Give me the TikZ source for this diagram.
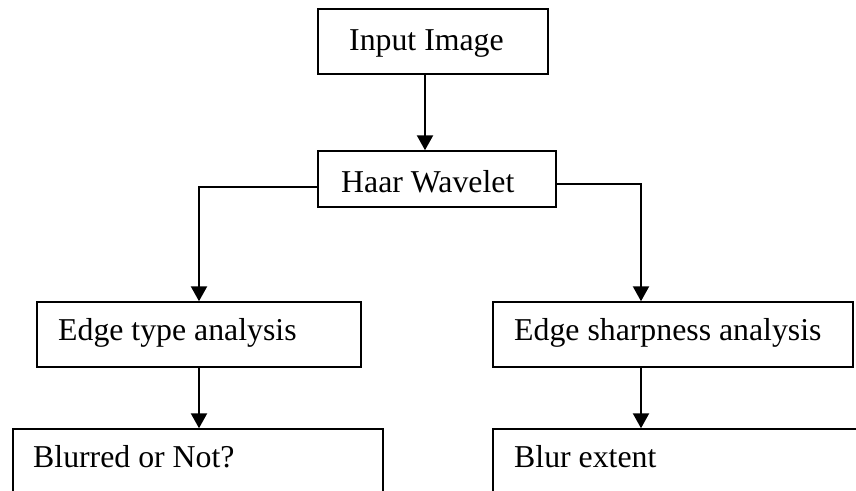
\documentclass[tikz,border=0pt]{standalone}
\usepackage{fontspec}
\setmainfont{Liberation Serif}
\usetikzlibrary{arrows.meta,calc}
\begin{document}
\begin{tikzpicture}[x=1pt,y=-1pt,
  box/.style={draw=black,line width=1.5pt,rectangle,inner sep=0pt,fill=none},
  lbl/.style={anchor=base west,inner sep=0pt,font=\fontsize{31.8}{36}\selectfont},
  conn/.style={line width=2.3pt,-{Triangle[length=15pt,width=16pt]}}]
\useasboundingbox (0,0) rectangle (856,490);
\clip (0,0) rectangle (856,490);
\fill[white] (0,0) rectangle (856,490);
\node[box,minimum width=230pt,minimum height=65pt] (inp) at (433,41.5) {};
\node[box,minimum width=238pt,minimum height=56pt] (haar) at (437,179) {};
\node[box,minimum width=324pt,minimum height=65pt] (eta) at (199,334.5) {};
\node[box,minimum width=360pt,minimum height=65pt] (esa) at (673,334.5) {};
\node[box,minimum width=370pt,minimum height=91pt] (bon) at (198,474.5) {};
\node[box,minimum width=387pt,minimum height=91pt] (be) at (686.5,474.5) {};
\node[lbl] (t1) at (349,50) {Input Image};
\node[lbl] (t2) at (341,192) {Haar Wavelet};
\node[lbl] (t3) at (58,340) {Edge type analysis};
\node[lbl] (t4) at (514,340) {Edge sharpness analysis};
\node[lbl] (t5) at (33,467) {Blurred or Not?};
\node[lbl] (t6) at (514,467) {Blur extent};
\draw[conn] (425,0 |- inp.south) -- (425,0 |- haar.north);
\draw[conn] ($(haar.west)+(0,8)$) -| (eta.north);
\draw[conn] ($(haar.east)+(0,5)$) -| (641,0 |- esa.north);
\draw[conn] (eta.south) -- (eta.south |- bon.north);
\draw[conn] (641,0 |- esa.south) -- (641,0 |- be.north);
\end{tikzpicture}
\end{document}
